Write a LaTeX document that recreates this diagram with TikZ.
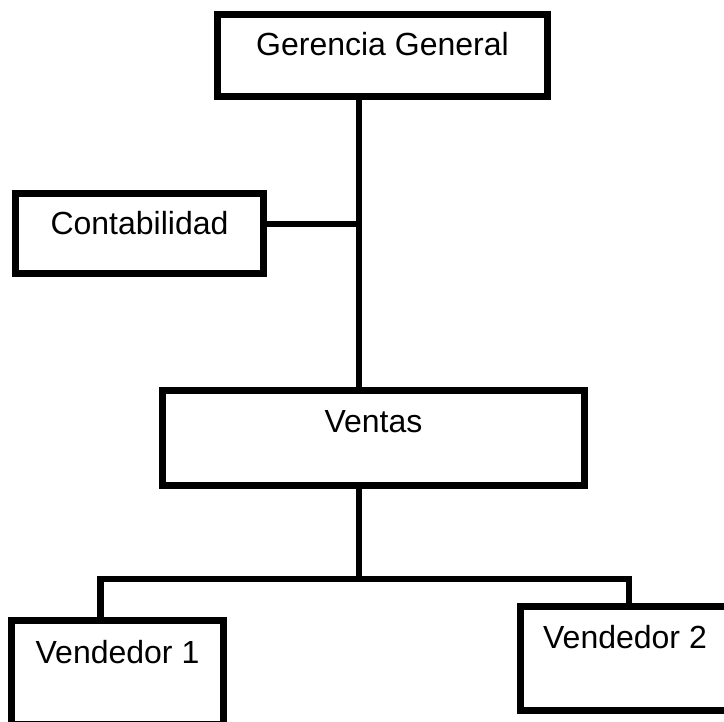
\documentclass[tikz,border=0pt]{standalone}
\usepackage{fontspec}
\setmainfont{Liberation Sans}
\usetikzlibrary{calc}

\begin{document}
\begin{tikzpicture}[x=1pt,y=-1pt,
  caja/.style={draw=black,line width=6.5pt,inner sep=0pt,outer sep=0pt,
    anchor=base,font=\fontsize{32}{36}\selectfont},
  enlace/.style={line width=6.5pt,color=black}]
\useasboundingbox (0,0) rectangle (724,722);
\clip (0,0) rectangle (724,722);

% The boxes of the chart.
\node[caja,minimum width=330pt,text height=41.5pt,text depth=40.5pt] (gerencia) at (382.5,56) {Gerencia General};
\node[caja,minimum width=248pt,text height=41.5pt,text depth=38.5pt] (contabilidad) at (139.5,235) {Contabilidad};
\node[caja,minimum width=422pt,text height=42.5pt,text depth=52.5pt] (ventas) at (373.5,433) {Ventas};
\node[caja,minimum width=212pt,text height=42.5pt,text depth=61.5pt] (vendedorA) at (117.5,663) {Vendedor 1};
\node[caja,minimum width=209pt,text height=41.5pt,text depth=62.5pt] (vendedorB) at (625,648) {Vendedor 2};

% Points where the lines meet.
\coordinate (eje) at (359,224);
\coordinate (rama) at (359,579);
\coordinate (ramaA) at (100.5,579);
\coordinate (ramaB) at (629,579);

% Draw the lines.
\draw[enlace] (gerencia.south -| eje) -- (ventas.north -| eje);
\draw[enlace] (contabilidad.east |- eje) -- (eje);
\draw[enlace] (ventas.south -| rama) -- (rama);
\draw[enlace] (vendedorA.north -| ramaA) -- (ramaA) -- (ramaB) -- (vendedorB.north -| ramaB);

\end{tikzpicture}
\end{document}
